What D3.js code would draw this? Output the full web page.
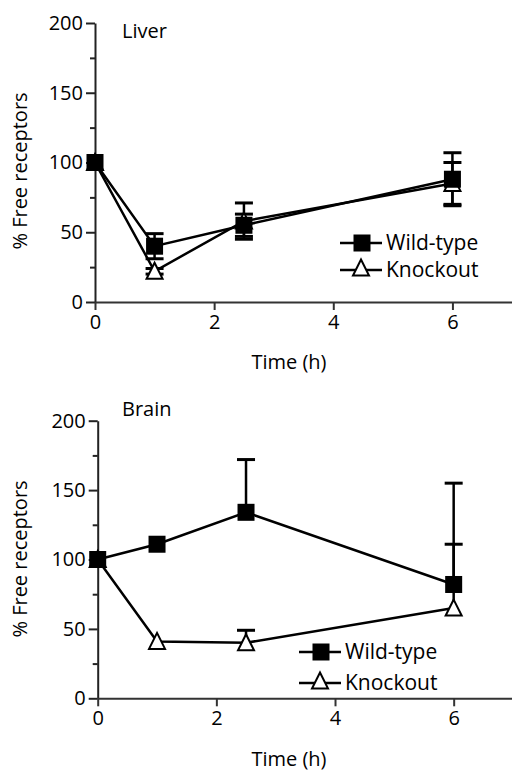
<!DOCTYPE html>
<html>
<head>
<meta charset="utf-8">
<script src="https://cdn.jsdelivr.net/npm/d3@7"></script>
<style>
html,body{margin:0;padding:0;background:#fff;}
svg text{font-family:"Open Sans","Noto Sans",sans-serif;fill:#000;font-weight:500;}
</style>
</head>
<body>
<svg id="chart" width="512" height="772"></svg>
<script>
// ---- data ----
const times = [0, 1, 2.5, 6];
const xTicks = [0, 2, 4, 6];
const yTicks = [0, 50, 100, 150, 200];
const yMinorTicks = [25, 75, 125, 175];
const seriesNames = ["Wild-type", "Knockout"];

const liverWT = [100, 40, 55, 88];
const liverWTErr = [0, 9, 8, 19];
const liverKO = [100, 22, 58, 85];
const liverKOErr = [0, 2, 13, 15];

const brainWT = [100, 111, 134, 82];
const brainWTErr = [0, 0, 38, 73];
const brainKO = [100, 41, 40, 65];
const brainKOErr = [0, 0, 9, 46];

const panels = [
  {title: "Liver", wt: liverWT, wtErr: liverWTErr, ko: liverKO, koErr: liverKOErr, both: true,
   x0: 95, x1: 512, yTop: 23, yBot: 302, titleX: 122, titleY: 38,
   ylabCx: 27, ylabCy: 171, xTitleY: 369,
   legX: 340, legY1: 243, legY2: 270},
  {title: "Brain", wt: brainWT, wtErr: brainWTErr, ko: brainKO, koErr: brainKOErr, both: false,
   x0: 97.7, x1: 513, yTop: 420.7, yBot: 698.3, titleX: 122, titleY: 416,
   ylabCx: 27, ylabCy: 559, xTitleY: 766,
   legX: 299, legY1: 652, legY2: 683}
];

const svg = d3.select("#chart");
const SQ = 17;
const FS = 20;

function drawSquare(g, cx, cy) {
  g.append("rect").attr("x", cx - SQ/2).attr("y", cy - SQ/2)
    .attr("width", SQ).attr("height", SQ).attr("fill", "#000");
}
function drawTriangle(g, cx, cy) {
  const w = 16, h = 15;
  g.append("path")
    .attr("d", `M${cx},${cy - h/2 - 1}L${cx + w/2},${cy + h/2}L${cx - w/2},${cy + h/2}Z`)
    .attr("fill", "#fff").attr("stroke", "#000").attr("stroke-width", 2);
}

panels.forEach(p => {
  const x = d3.scaleLinear().domain([0, 7]).range([p.x0, p.x1]);
  const y = d3.scaleLinear().domain([0, 200]).range([p.yBot, p.yTop]);
  const g = svg.append("g");

  // y axis
  const yAxis = d3.axisLeft(y).tickValues(yTicks).tickFormat(d3.format("d"))
    .tickSize(9).tickPadding(3).tickSizeOuter(0);
  const ya = g.append("g").attr("transform", `translate(${p.x0},0)`).call(yAxis);
  ya.attr("font-family", null).attr("font-size", null);
  ya.select(".domain").attr("stroke", "#222").attr("stroke-width", 2);
  ya.selectAll(".tick line").attr("stroke", "#222").attr("stroke-width", 2);
  ya.selectAll(".tick text").attr("font-size", FS).attr("fill", "#000");
  const yMinor = d3.axisLeft(y).tickValues(yMinorTicks).tickSize(5).tickFormat("").tickSizeOuter(0);
  const ym = g.append("g").attr("transform", `translate(${p.x0},0)`).call(yMinor);
  ym.select(".domain").remove();
  ym.selectAll(".tick line").attr("stroke", "#222").attr("stroke-width", 2);

  // x axis
  const xAxis = d3.axisBottom(x).tickValues(xTicks).tickFormat(d3.format("d"))
    .tickSize(8).tickPadding(5).tickSizeOuter(0);
  const xa = g.append("g").attr("transform", `translate(0,${p.yBot})`).call(xAxis);
  xa.attr("font-family", null).attr("font-size", null);
  xa.select(".domain").attr("stroke", "#333").attr("stroke-width", 2);
  xa.selectAll(".tick line").attr("stroke", "#333").attr("stroke-width", 2);
  xa.selectAll(".tick text").attr("font-size", FS).attr("fill", "#000");

  // titles
  g.append("text").attr("x", p.titleX).attr("y", p.titleY).attr("font-size", FS).text(p.title);
  g.append("text").attr("transform", `translate(${p.ylabCx},${p.ylabCy}) rotate(-90)`)
    .attr("text-anchor", "middle").attr("font-size", FS).text("% Free receptors");
  g.append("text").attr("x", 289).attr("y", p.xTitleY).attr("text-anchor", "middle")
    .attr("font-size", FS).text("Time (h)");

  const line = d3.line().x(d => x(d[0])).y(d => y(d[1]));
  const wtPts = times.map((t, i) => [t, p.wt[i]]);
  const koPts = times.map((t, i) => [t, p.ko[i]]);

  // error bars
  function errBars(vals, errs) {
    times.forEach((t, i) => {
      if (!errs[i]) return;
      const cx = x(t);
      const top = y(vals[i] + errs[i]);
      const bot = p.both ? y(vals[i] - errs[i]) : y(vals[i]);
      g.append("line").attr("x1", cx).attr("x2", cx).attr("y1", top).attr("y2", bot)
        .attr("stroke", "#000").attr("stroke-width", 2.5);
      g.append("line").attr("x1", cx - 9).attr("x2", cx + 9).attr("y1", top).attr("y2", top)
        .attr("stroke", "#000").attr("stroke-width", 3);
      if (p.both) {
        g.append("line").attr("x1", cx - 9).attr("x2", cx + 9).attr("y1", bot).attr("y2", bot)
          .attr("stroke", "#000").attr("stroke-width", 3);
      }
    });
  }
  errBars(p.ko, p.koErr);
  errBars(p.wt, p.wtErr);

  g.append("path").datum(koPts).attr("d", line).attr("fill", "none")
    .attr("stroke", "#000").attr("stroke-width", 2.5);
  g.append("path").datum(wtPts).attr("d", line).attr("fill", "none")
    .attr("stroke", "#000").attr("stroke-width", 2.5);

  koPts.forEach(d => drawTriangle(g, x(d[0]), y(d[1])));
  wtPts.forEach(d => drawSquare(g, x(d[0]), y(d[1])));

  // legend
  const lg = g.append("g");
  [p.legY1, p.legY2].forEach((ly, i) => {
    lg.append("line").attr("x1", p.legX).attr("x2", p.legX + 42).attr("y1", ly).attr("y2", ly)
      .attr("stroke", "#000").attr("stroke-width", 2.5);
    if (i === 0) drawSquare(lg, p.legX + 22, ly);
    else drawTriangle(lg, p.legX + 21, ly - 2);
    lg.append("text").attr("x", p.legX + 46).attr("y", ly + 7).attr("font-size", 21)
      .text(seriesNames[i]);
  });
});
</script>
</body>
</html>
